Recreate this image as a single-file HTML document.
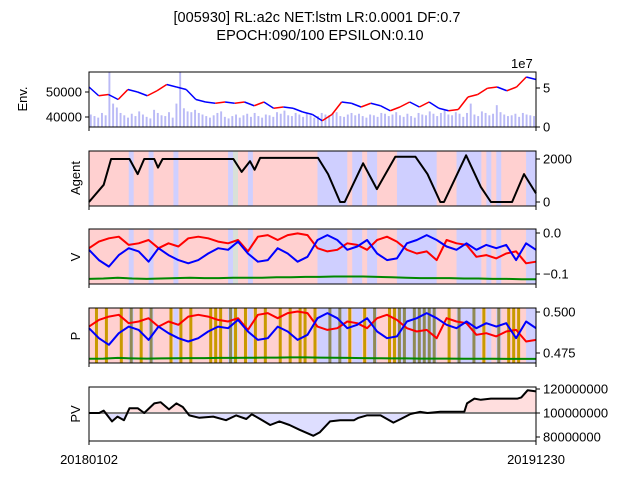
<!DOCTYPE html>
<html><head><meta charset="utf-8"><style>
body{margin:0;background:#fff}
svg{display:block;font-family:"Liberation Sans","DejaVu Sans",sans-serif}
</style></head><body>
<svg id="c" width="640" height="480" viewBox="0 0 640 480" xmlns="http://www.w3.org/2000/svg">
<text x="317" y="22" font-size="14.5" text-anchor="middle">[005930] RL:a2c NET:lstm LR:0.0001 DF:0.7</text>
<text x="320" y="40" font-size="14.5" text-anchor="middle">EPOCH:090/100 EPSILON:0.10</text>
<g id="g"></g>
</svg>
<script>
const price=[52000,48500,49000,47000,51000,50000,48500,50500,53000,52000,51000,47000,46000,45500,46000,45500,46000,44500,46000,43500,44000,43500,42000,41000,38500,41000,46000,45500,44000,45500,44500,42500,44000,46000,44000,46000,43500,42500,43000,48000,49000,51500,52000,50500,52000,56000,55000];
const volume=[16,14,12,18,15,70,30,25,18,15,12,17,14,20,16,13,11,22,18,15,14,19,12,30,70,24,20,19,22,18,16,14,12,15,18,20,13,11,14,16,12,15,17,13,18,14,12,16,15,13,19,17,21,15,14,18,16,13,17,15,12,14,18,16,15,17,19,14,13,16,18,15,17,14,12,16,15,13,18,17,14,16,19,15,13,17,14,12,18,16,15,20,17,14,18,22,16,15,19,17,13,18,30,16,14,20,18,15,17,28,19,16,14,15,17,13,18,16,15,14];
const agentDay=[0,16,24,44,53,60,71,75,80,157,166,175,180,186,249,260,273,278,298,313,333,355,368,382,386,410,426,437,460,473,486];
const agentVal=[0,800,2000,2000,1300,2000,2000,1600,2000,2000,1400,1900,1500,2050,2050,1300,0,0,1800,600,2100,2100,1300,0,0,2170,700,0,0,1300,400];
const regimes="rrrrrrrrbrrrbrrrrbrrrrrrrrrrbgrrbrrrrrrrrrrrrrbbbbbbrbbrbbrrrrbbbbbbbbrrrrbbbbbrbrbrrrrrbb";
const goldIdx=[1,3,6,8,10,12,16,18,20,24,25,26,28,29,31,33,35,38,40,42,43,45,48,50,52,55,57,60,61,62,63,65,66,67,68,69,72,74,77,79,82,84,85,86];
const vRed=[-0.037,-0.021,-0.013,-0.009,-0.029,-0.025,-0.017,-0.037,-0.025,-0.033,-0.013,-0.009,-0.013,-0.021,-0.025,-0.017,-0.045,-0.009,-0.005,-0.017,-0.005,-0.001,-0.005,-0.037,-0.045,-0.041,-0.025,-0.029,-0.041,-0.017,-0.009,-0.021,-0.041,-0.050,-0.045,-0.066,-0.017,-0.025,-0.029,-0.058,-0.054,-0.062,-0.050,-0.045,-0.074,-0.070];
const vBlue=[-0.041,-0.066,-0.082,-0.054,-0.037,-0.045,-0.070,-0.037,-0.054,-0.066,-0.074,-0.066,-0.050,-0.037,-0.041,-0.021,-0.050,-0.070,-0.066,-0.037,-0.050,-0.070,-0.058,-0.017,-0.005,-0.017,-0.041,-0.033,-0.017,-0.050,-0.066,-0.062,-0.025,-0.017,-0.005,-0.017,-0.033,-0.041,-0.025,-0.041,-0.029,-0.037,-0.029,-0.066,-0.025,-0.041];
const vGreen=[-0.112,-0.111,-0.109,-0.111,-0.112,-0.111,-0.110,-0.109,-0.110,-0.110,-0.109,-0.109,-0.109,-0.108,-0.108,-0.107,-0.107,-0.106,-0.106,-0.106,-0.107,-0.108,-0.109,-0.110,-0.110,-0.110,-0.111,-0.111,-0.112,-0.112,-0.113,-0.113];
const pRed=[0.4911,0.4952,0.4972,0.4983,0.4932,0.4942,0.4962,0.4911,0.4942,0.4922,0.4972,0.4983,0.4972,0.4952,0.4942,0.4962,0.4891,0.4983,0.4993,0.4962,0.4993,0.5003,0.4993,0.4911,0.4891,0.4901,0.4942,0.4932,0.4901,0.4962,0.4983,0.4952,0.4901,0.4881,0.4891,0.4840,0.4962,0.4942,0.4932,0.4861,0.4871,0.4851,0.4881,0.4891,0.4820,0.4830];
const pBlue=[0.4901,0.4840,0.4800,0.4871,0.4911,0.4891,0.4830,0.4911,0.4871,0.4840,0.4820,0.4840,0.4881,0.4911,0.4901,0.4952,0.4881,0.4830,0.4840,0.4911,0.4881,0.4830,0.4861,0.4962,0.4993,0.4962,0.4901,0.4922,0.4962,0.4881,0.4840,0.4851,0.4942,0.4962,0.4993,0.4962,0.4922,0.4901,0.4942,0.4901,0.4932,0.4911,0.4932,0.4840,0.4942,0.4901];
const pGreen=[0.4715,0.4716,0.4720,0.4717,0.4716,0.4717,0.4718,0.4719,0.4719,0.4720,0.4720,0.4721,0.4722,0.4722,0.4723,0.4723,0.4722,0.4721,0.4720,0.4719,0.4718,0.4717,0.4717,0.4716,0.4716,0.4716,0.4715,0.4715,0.4715,0.4714,0.4714,0.4714];
const pvDay=[0,11,16,25,31,38,44,53,60,71,78,87,95,102,109,120,135,149,160,171,177,186,197,207,218,229,244,251,262,273,288,293,302,317,331,339,349,360,368,382,400,408,411,419,426,437,466,470,477,486];
const pvVal=[100,100,102,93,97,94,104,104,100,108,109,103,108,105,98,96,97,94,98,95,99,95,90,93,90,86,81,84,93,94,94,96,98,98,92,95,99,101,100,101,101,101,108,112,111,112,112,113,119,118];
const xTicks=["20180102","20191230"];

const NS="http://www.w3.org/2000/svg",G=document.getElementById('g');
const X0=89,X1=536,DAYS=486;
function el(t,a,p){const e=document.createElementNS(NS,t);for(const k in a)e.setAttribute(k,a[k]);(p||G).appendChild(e);return e;}
function txt(s,a,p){const e=el('text',a,p);e.textContent=s;return e;}
const dx=d=>X0+d/DAYS*(X1-X0);
const ix=(i,n)=>X0+i/(n-1)*(X1-X0);
function lin(d0,d1,r0,r1){return v=>r0+(v-d0)/(d1-d0)*(r1-r0);}
function poly(xs,ys,col,w,name){const p=el('polyline',{points:xs.map((x,i)=>x.toFixed(1)+','+ys[i].toFixed(1)).join(' '),fill:'none',stroke:col,'stroke-width':w,'stroke-linejoin':'round'});

return p;}
const panels=[[72,127],[151,206],[229,284],[308,363],[387,441]];
function frame(i,name){const [t,b]=panels[i];const r=el('rect',{x:X0,y:t,width:X1-X0,height:b-t,fill:'none',stroke:'#000','stroke-width':1});


el('line',{x1:X0,y1:b,x2:X0,y2:b+4,stroke:'#000'});el('line',{x1:X1,y1:b,x2:X1,y2:b+4,stroke:'#000'});}
function rtick(y,label,name){el('line',{x1:X1,y1:y,x2:X1+4,y2:y,stroke:'#000'});const t=txt(label,{x:X1+7,y:y+4.5,'font-size':13});

}
function ylabel(s,x,y,name){const t=txt(s,{x:x,y:y,'font-size':13,'text-anchor':'middle',transform:`rotate(-90 ${x} ${y})`});

}
function background(i,gold){const [t,b]=panels[i];const n=regimes.length,w=(X1-X0)/n;
const cols={r:'#ffd0d0',b:'#cfcfff',g:'#d8e0d8'};
for(let k=0;k<n;k++){const r=el('rect',{x:X0+k*w,y:t,width:w+0.4,height:b-t,fill:cols[regimes[k]]});

}
if(gold)goldIdx.forEach(k=>{const r=el('rect',{x:X0+k*w+1,y:t,width:3,height:b-t,fill:regimes[k]=='b'?'#8f8a55':'#c99a00'});

});}

// Panel 1
{const [t,b]=panels[0];const vy=lin(0,70.5,b,t);const bw=(X1-X0)/volume.length;
volume.forEach((v,i)=>{const r=el('rect',{x:X0+i*bw+0.8,y:vy(v),width:Math.max(1,bw-1.8),height:b-vy(v),fill:'#babaf6'});

});
const py=lin(40000,50000,117,92);
for(let i=1;i<price.length;i++){const l=el('line',{x1:ix(i-1,price.length),y1:py(price[i-1]),x2:ix(i,price.length),y2:py(price[i]),stroke:price[i]>=price[i-1]?'#f00':'#00f','stroke-width':1.5});

}
frame(0,'env-axes');
[[50000,'50000'],[40000,'40000']].forEach(([v,s])=>{el('line',{x1:X0-4,y1:py(v),x2:X0,y2:py(v),stroke:'#000'});const tt=txt(s,{x:X0-7,y:py(v)+4.5,'font-size':13,'text-anchor':'end'});

});
rtick(vy(50),'5','volume-tick');rtick(vy(0),'0','volume-tick');
const e=txt('1e7',{x:511,y:68,'font-size':13});


ylabel('Env.',27,99,'env-y-label');}

// Panel 2
{background(1,false);const ay=lin(0,2000,202,159);
poly(agentDay.map(dx),agentVal.map(ay),'#000',2,'agent-stock-line');
frame(1,'agent-axes');rtick(ay(2000),'2000','agent-tick');rtick(ay(0),'0','agent-tick');ylabel('Agent',80,178,'agent-y-label');}

// Panel 3
{background(2,false);const vy=lin(0,-0.1,233,274);
poly(vGreen.map((_,i)=>ix(i,vGreen.length)),vGreen.map(vy),'#080',2,'v-hold-line');
poly(vRed.map((_,i)=>ix(i,vRed.length)),vRed.map(vy),'#f00',2,'v-buy-line');
poly(vBlue.map((_,i)=>ix(i,vBlue.length)),vBlue.map(vy),'#00f',2,'v-sell-line');
frame(2,'v-axes');rtick(vy(0),'0.0','v-tick');rtick(vy(-0.1),'\u22120.1','v-tick');ylabel('V',80,257,'v-y-label');}

// Panel 4
{background(3,true);const py=lin(0.5,0.475,312,353);
poly(pGreen.map((_,i)=>ix(i,pGreen.length)),pGreen.map(py),'#080',2,'p-hold-line');
poly(pRed.map((_,i)=>ix(i,pRed.length)),pRed.map(py),'#f00',2,'p-buy-line');
poly(pBlue.map((_,i)=>ix(i,pBlue.length)),pBlue.map(py),'#00f',2,'p-sell-line');
frame(3,'p-axes');rtick(py(0.5),'0.500','p-tick');rtick(py(0.475),'0.475','p-tick');ylabel('P',80,336,'p-y-label');}

// Panel 5
{const [t,b]=panels[4];const yy=lin(100,120,413,389);const xs=pvDay.map(dx),ys=pvVal.map(yy),base=yy(100);
let up='M'+xs[0]+','+base,dn=up;xs.forEach((x,i)=>{up+=' L'+x+','+Math.min(ys[i],base);dn+=' L'+x+','+Math.max(ys[i],base);});
up+=' L'+xs[xs.length-1]+','+base+'Z';dn+=' L'+xs[xs.length-1]+','+base+'Z';
const a=el('path',{d:up,fill:'#ffdede'});
const c=el('path',{d:dn,fill:'#dedeff'});
const bl=el('line',{x1:X0,y1:base,x2:X1,y2:base,stroke:'#808080','stroke-width':2});
poly(xs,ys,'#000',2,'portfolio-value-line');
frame(4,'pv-axes');rtick(yy(120),'120000000','pv-tick');rtick(yy(100),'100000000','pv-tick');rtick(yy(80),'80000000','pv-tick');ylabel('PV',80,414,'pv-y-label');
xTicks.forEach((s,i)=>{const tt=txt(s,{x:i?X1:X0,y:464,'font-size':13,'text-anchor':'middle'});

});}
</script>
</body></html>
